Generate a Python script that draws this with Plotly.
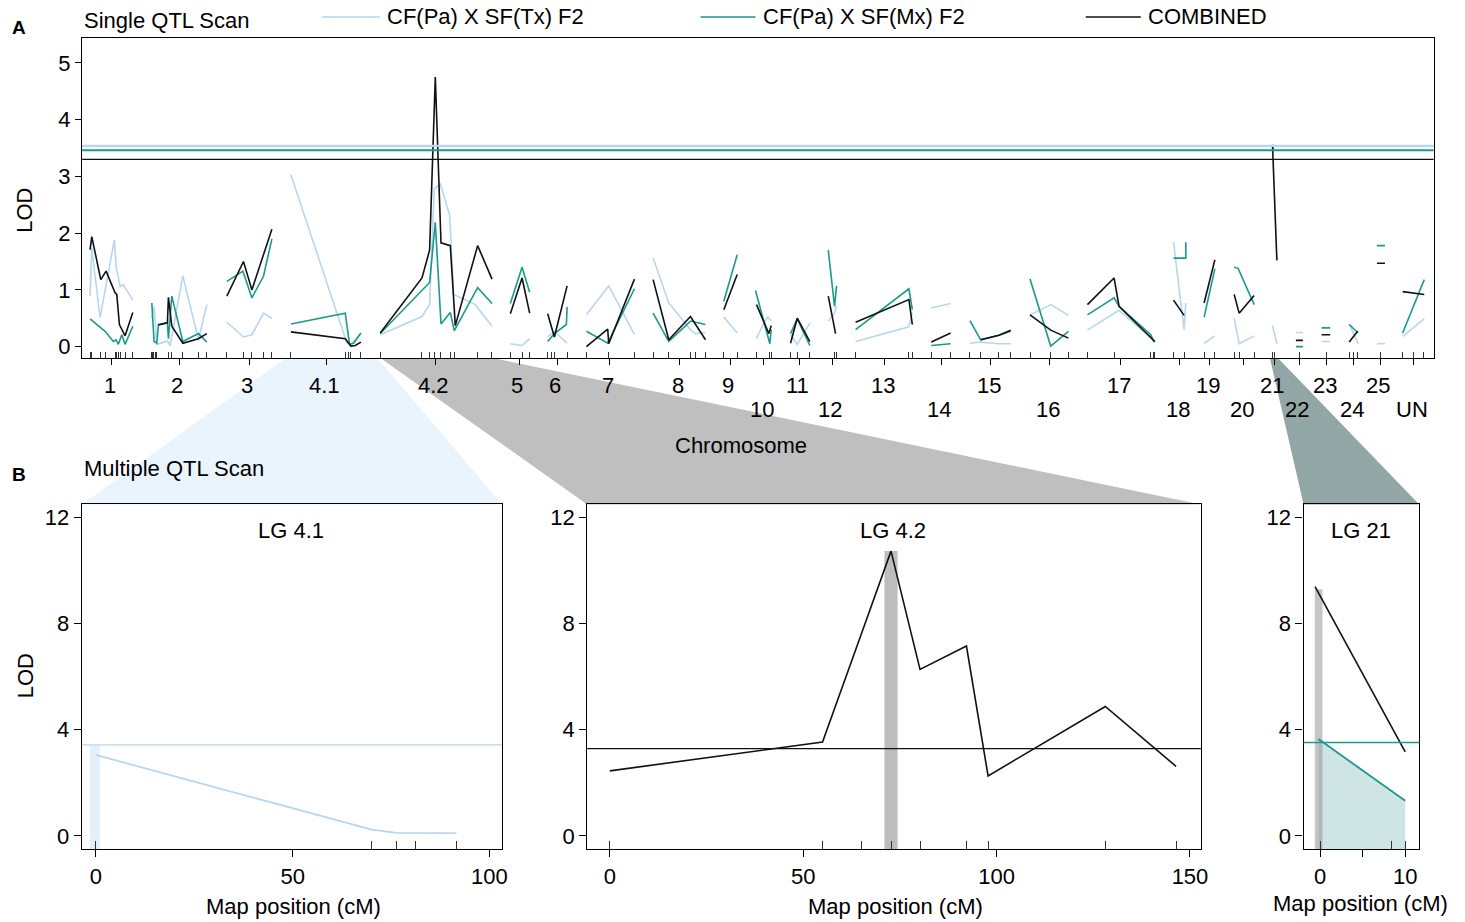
import plotly.graph_objects as go

W, H = 1465, 922          # reference pixel frame
FIG_W = 1473              # rendered width (capture is rescaled horizontally to 1465)
FONT = "Liberation Sans, Arial, sans-serif"
FS = 22
C_TX = "#b7d6ef"
C_MX = "#1a9a8c"
C_CB = "#111111"

# ---------------- Panel A : single QTL scan (cumulative genome position) ----------------
chrom_labels = ["1", "2", "3", "4.1", "4.2", "5", "6", "7", "8", "9", "10", "11", "12", "13",
                "14", "15", "16", "17", "18", "19", "20", "21", "22", "23", "24", "25", "UN"]
chrom_centers = [111.7, 179.3, 249, 326, 435, 519, 556.7, 609.3, 679.3, 730, 763.3, 799.3, 831.7,
                 884, 940.7, 990, 1049, 1120, 1179, 1208.7, 1242.7, 1273.3, 1298.3, 1326, 1352.7,
                 1379.3, 1412.7]
chrom_row = [0, 0, 0, 0, 0, 0, 0, 0, 0, 0, 1, 0, 1, 0, 1, 0, 1, 0, 1, 0, 1, 0, 1, 0, 1, 0, 1]

tx_pos = [90, 91.7, 100, 114.3, 116, 120, 123.3, 132.7, None,
          151.7, 154, 156.7, 167.3, 170, 182.7, 198.3, 206.7, None,
          226.7, 243.3, 251.7, 263.3, 271.7, None,
          290.7, 346.7, 350.7, 360.7, None,
          380, 421.7, 429.3, 434, 440, 449.3, 453.3, 475, 491.7, None,
          510, 521.7, 529.3, None,
          547.3, 554, 566.7, None,
          586, 608.3, 634, None,
          652.7, 668.3, 690, 695, 705, None,
          723.3, 736.7, None,
          756, 763.3, 767.3, 770.7, None,
          790, 796.7, 809.3, None,
          827.7, 834, 836, None,
          855, 908.3, 911.7, None,
          930.7, 950, None,
          969.3, 980, 998.3, 1010, None,
          1029.3, 1050, 1067.7, None,
          1086.7, 1118.3, 1154, None,
          1172.7, 1183.3, 1185, None,
          1203.3, 1214, None,
          1233.3, 1238.3, 1253.3, None,
          1271.7, 1276, None,
          1295, 1302, None,
          1320.7, 1329.3, None,
          1348.3, 1357.3, None,
          1376, 1384, None,
          1401.7, 1423.3]
tx_lod = [0.89, 1.74, 0.51, 1.88, 1.41, 1.06, 1.09, 0.82, None,
          0.5, 0.71, 0.04, 0.1, 0.02, 1.25, 0.12, 0.74, None,
          0.43, 0.17, 0.21, 0.59, 0.5, None,
          3.03, 0.06, 0.04, 0.23, None,
          0.21, 0.53, 0.74, 2.78, 2.87, 2.32, 0.92, 0.74, 0.36, None,
          0.05, 0.02, 0.14, None,
          0.17, 0.27, 0.06, None,
          0.56, 1.07, 0.21, None,
          1.56, 0.77, 0.3, 0.23, 0.25, None,
          0.52, 0.24, None,
          0.14, 0.42, 0.52, 0.45, None,
          0.21, 0.04, 0.42, None,
          0.45, 0.59, 0.71, None,
          0.09, 0.35, 0.6, None,
          0.68, 0.76, None,
          0.06, 0.08, 0.05, 0.05, None,
          0.56, 0.74, 0.55, None,
          0.29, 0.64, 0.09, None,
          1.85, 0.3, 0.77, None,
          0.06, 0.19, None,
          0.5, 0.05, 0.19, None,
          0.37, 0.05, None,
          0.25, 0.25, None,
          0.09, 0.09, None,
          0.4, 0.05, None,
          0.05, 0.05, None,
          0.18, 0.49]

mx_pos = [90, 96.7, 105, 113.3, 116, 118.3, 121.7, 125, 132.7, None,
          151.7, 154, 156.7, 158.3, 167.3, 168.3, 171.7, 182.7, 198.3, 206.7, None,
          226.7, 242.7, 251.7, 263.3, 271.7, None,
          290.7, 345, 349.3, 353.3, 360.7, None,
          380, 429.3, 435, 440.7, 450, 454, 477.3, 491.7, None,
          510, 521.7, 529.3, None,
          547.3, 554, 566, 566.7, None,
          586, 607.3, 634, None,
          652.7, 668.3, 690, 705, None,
          723.3, 736.7, None,
          755, 769.3, 770.7, None,
          790, 796.7, 809.3, None,
          827.7, 834, 836, None,
          855, 908.3, 911.7, None,
          930.7, 950, None,
          969.3, 980, 998.3, 1010, None,
          1029.3, 1050, 1067.7, None,
          1086.7, 1113.3, 1118.3, 1150, 1152.7, 1154, None,
          1172.7, 1185, 1185, None,
          1203.3, 1214, None,
          1233.3, 1237.3, 1253.3, None,
          1271.7, 1272.2, None,
          1295, 1302, None,
          1320.7, 1329.3, None,
          1348.3, 1357.3, None,
          1376, 1384, None,
          1401.7, 1423.3]
mx_lod = [0.49, 0.39, 0.27, 0.09, 0.12, 0.04, 0.21, 0.04, 0.36, None,
          0.77, 0.09, 0.06, 0.39, 0.42, 0.14, 0.89, 0.09, 0.23, 0.08, None,
          1.15, 1.33, 0.86, 1.24, 1.9, None,
          0.4, 0.59, 0.04, 0.06, 0.24, None,
          0.23, 1.13, 2.19, 0.4, 0.6, 0.28, 1.04, 0.76, None,
          0.76, 1.4, 0.96, None,
          0.09, 0.23, 0.39, 0.7, None,
          0.27, 0.06, 1.02, None,
          0.59, 0.09, 0.45, 0.39, None,
          0.8, 1.62, None,
          0.99, 0.05, 0.3, None,
          0.23, 0.49, 0.02, None,
          1.7, 0.71, 1.07, None,
          0.3, 1.02, 0.65, None,
          0.02, 0.05, None,
          0.46, 0.12, 0.2, 0.27, None,
          1.19, 0.01, 0.27, None,
          0.56, 0.86, 0.71, 0.21, 0.1, 0.08, None,
          1.56, 1.56, 1.84, None,
          0.52, 1.37, None,
          1.4, 1.38, 0.74, None,
          3.56, 3.45, None,
          0.0, 0.0, None,
          0.33, 0.33, None,
          0.39, 0.24, None,
          1.78, 1.78, None,
          0.24, 1.18]

cb_pos = [90, 91.7, 100.7, 106, 115, 116.7, 119.3, 125, 132.7, None,
          158.3, 167.3, 168.3, 171.7, 182.7, 198.3, 206.7, None,
          226.7, 243.3, 251.7, 271.7, None,
          290.7, 345, 350.7, 355, 360.7, None,
          380, 421.7, 429.3, 435, 440.7, 450, 455, 477.3, 491.7, None,
          510, 521.7, 529.3, None,
          547.3, 554, 566.7, None,
          586, 607.3, 608.3, 634, None,
          652.7, 668.3, 690, 705, None,
          723.3, 736.7, None,
          756, 768.3, 770.7, None,
          790, 796.7, 809.3, None,
          827.7, 835, None,
          855, 908.3, 911.7, None,
          930.7, 950, None,
          980, 998.3, 1010, None,
          1029.3, 1050, 1067.7, None,
          1086.7, 1113.3, 1118.3, 1154, None,
          1172.7, 1183.3, None,
          1203.3, 1214, None,
          1233.3, 1238.3, 1253.3, None,
          1271.7, 1276, None,
          1295, 1302, None,
          1320.7, 1329.3, None,
          1348.3, 1356.7, None,
          1376, 1384, None,
          1401.7, 1423.3]
cb_lod = [1.71, 1.94, 1.18, 1.33, 0.95, 0.92, 0.39, 0.19, 0.6, None,
          0.38, 0.42, 0.87, 0.36, 0.06, 0.14, 0.23, None,
          0.89, 1.5, 1.0, 2.07, None,
          0.26, 0.14, 0.01, 0.02, 0.08, None,
          0.24, 1.21, 1.7, 4.75, 1.83, 1.78, 0.37, 1.78, 1.19, None,
          0.58, 1.21, 0.59, None,
          0.58, 0.17, 1.07, None,
          0.0, 0.31, 0.05, 1.19, None,
          1.18, 0.12, 0.53, 0.12, None,
          0.65, 1.27, None,
          0.74, 0.23, 0.37, None,
          0.06, 0.5, 0.09, None,
          0.89, 0.23, None,
          0.43, 0.83, 0.39, None,
          0.08, 0.24, None,
          0.12, 0.2, 0.29, None,
          0.56, 0.29, 0.15, None,
          0.74, 1.21, 0.71, 0.09, None,
          0.82, 0.55, None,
          0.77, 1.53, None,
          0.92, 0.59, 0.9, None,
          3.53, 1.52, None,
          0.11, 0.11, None,
          0.21, 0.21, None,
          0.08, 0.27, None,
          1.47, 1.47, None,
          0.97, 0.92]

markers_A = [90, 91.7, 100, 105, 115, 116.7, 118.3, 120, 125, 132.7,
             151.7, 152.7, 153.7, 155, 156.7, 168.3, 171.7, 182.7, 198.3, 206.7,
             226.7, 243.3, 251.7, 263.3, 271.7,
             290.7, 345, 348.3, 350.7, 360.7,
             380, 421.7, 429.3, 434, 440.7, 450, 454, 477.3, 490.7,
             510, 521.7, 529.3, 547.3, 550.7, 554, 566.7, 586, 608.3, 634,
             652.7, 668.3, 690, 695, 705, 723.3, 736.7, 756, 769.3, 770.7,
             790, 796.7, 809.3, 834, 836, 855, 908.3, 911.7, 930.7, 950,
             969.3, 980, 998.3, 1010, 1029.3, 1050, 1067.7,
             1086.7, 1113.3, 1150, 1152.7, 1154, 1172.7, 1183.3, 1203.3, 1214,
             1233.3, 1238.3, 1253.3, 1271.7, 1274, 1298.3, 1326,
             1348.3, 1352.7, 1356.7, 1379.3, 1401.7, 1412.7, 1422.7]

thr_A = {"tx": 3.54, "mx": 3.46, "cb": 3.30}

# ---------------- Panel B : multiple QTL scan ----------------
lg41_pos = [0, 70.1, 76.4, 81.2, 91.6]
lg41_tx = [3.05, 0.23, 0.11, 0.1, 0.1]
lg41_ci = [-1.5, 1.0]
lg41_thr = 3.43

lg42_pos = [0, 55, 65, 72.7, 80.2, 92.2, 97.8, 128.1, 146.4]
lg42_cb = [2.45, 3.54, 7.6, 10.74, 6.28, 7.16, 2.26, 4.88, 2.62]
lg42_ci = [71.0, 74.4]
lg42_thr = 3.29

lg21_cb_pos = [-0.6, 10.0]
lg21_cb = [9.40, 3.17]
lg21_mx_pos = [-0.2, 10.0]
lg21_mx = [3.65, 1.32]
lg21_ci = [-0.63, 0.27]
lg21_thr = 3.52
lg21_markers = [0, 8.4, 10]


def px(x):
    return x / W


def py(y):
    return 1 - y / H


fig = go.Figure()

# Panel A lines
for xs, ys, col, name in [(tx_pos, tx_lod, C_TX, "CF(Pa) X SF(Tx) F2"),
                          (mx_pos, mx_lod, C_MX, "CF(Pa) X SF(Mx) F2"),
                          (cb_pos, cb_lod, C_CB, "COMBINED")]:
    fig.add_trace(go.Scatter(x=xs, y=ys, mode="lines", line=dict(color=col, width=1.6),
                             connectgaps=False, name=name, showlegend=False,
                             xaxis="x", yaxis="y"))
fig.add_trace(go.Scatter(x=markers_A, y=[None] * len(markers_A), mode="markers",
                         showlegend=False, hoverinfo="skip", xaxis="x5", yaxis="y"))

# Panel B : LG 4.1
fig.add_trace(go.Scatter(x=[lg41_ci[0], lg41_ci[1], lg41_ci[1], lg41_ci[0]],
                         y=[-0.5, -0.5, lg41_thr, lg41_thr], fill="toself", mode="none",
                         fillcolor="#e3f0fb", showlegend=False, xaxis="x2", yaxis="y2"))
fig.add_trace(go.Scatter(x=lg41_pos, y=lg41_tx, mode="lines", line=dict(color=C_TX, width=1.8),
                         showlegend=False, xaxis="x2", yaxis="y2"))
fig.add_trace(go.Scatter(x=lg41_pos, y=[None] * len(lg41_pos), mode="markers",
                         showlegend=False, hoverinfo="skip", xaxis="x6", yaxis="y2"))

# LG 4.2
fig.add_trace(go.Scatter(x=[lg42_ci[0], lg42_ci[1], lg42_ci[1], lg42_ci[0]],
                         y=[-0.5, -0.5, max(lg42_cb), max(lg42_cb)], fill="toself", mode="none",
                         fillcolor="#bdbdbd", showlegend=False, xaxis="x3", yaxis="y3"))
fig.add_trace(go.Scatter(x=lg42_pos, y=lg42_cb, mode="lines", line=dict(color=C_CB, width=1.6),
                         showlegend=False, xaxis="x3", yaxis="y3"))
fig.add_trace(go.Scatter(x=lg42_pos, y=[None] * len(lg42_pos), mode="markers",
                         showlegend=False, hoverinfo="skip", xaxis="x7", yaxis="y3"))

# LG 21
fig.add_trace(go.Scatter(x=[lg21_mx_pos[0], lg21_mx_pos[1], lg21_mx_pos[1], lg21_mx_pos[0]],
                         y=[lg21_mx[0], lg21_mx[1], -0.5, -0.5], fill="toself", mode="none",
                         fillcolor="#cfe4e4", showlegend=False, xaxis="x4", yaxis="y4"))
fig.add_trace(go.Scatter(x=[lg21_ci[0], lg21_ci[1], lg21_ci[1], lg21_ci[0]],
                         y=[-0.5, -0.5, lg21_cb[0] - 0.1, lg21_cb[0] - 0.1], fill="toself",
                         mode="none", fillcolor="rgba(150,150,150,0.55)", showlegend=False,
                         xaxis="x4", yaxis="y4"))
fig.add_trace(go.Scatter(x=lg21_cb_pos, y=lg21_cb, mode="lines", line=dict(color=C_CB, width=1.6),
                         showlegend=False, xaxis="x4", yaxis="y4"))
fig.add_trace(go.Scatter(x=lg21_mx_pos, y=lg21_mx, mode="lines", line=dict(color=C_MX, width=1.8),
                         showlegend=False, xaxis="x4", yaxis="y4"))
fig.add_trace(go.Scatter(x=lg21_markers, y=[None] * len(lg21_markers), mode="markers",
                         showlegend=False, hoverinfo="skip", xaxis="x8", yaxis="y4"))

tickfont = dict(family=FONT, size=FS, color="black")
box = dict(showline=True, linecolor="black", linewidth=1.3, mirror=True, showgrid=False,
           zeroline=False, ticks="outside", tickcolor="black", tickwidth=1, tickfont=tickfont)

A_x = [82, 1432.7]
A_y = [38.3, 358.3]
B_y = [505, 850]
B1_x = [81.7, 501.7]
B2_x = [586.8, 1200]
B3_x = [1302.7, 1418.3]

layout = dict(
    width=FIG_W, height=H, margin=dict(l=0, r=0, t=0, b=0),
    paper_bgcolor="white", plot_bgcolor="rgba(0,0,0,0)", showlegend=False,
    font=dict(family=FONT, size=FS, color="black"),
    xaxis=dict(box, domain=[px(A_x[0]), px(A_x[1])], range=A_x, anchor="y",
               tickvals=chrom_centers, ticktext=[""] * len(chrom_centers), ticklen=6),
    yaxis=dict(box, domain=[py(A_y[1]), py(A_y[0])], range=[-0.199, 5.435], anchor="x",
               tickvals=[0, 1, 2, 3, 4, 5], ticklen=6),
    xaxis5=dict(overlaying="x", anchor="y", range=A_x, tickvals=markers_A, ticks="inside",
                ticklen=6, tickcolor="#333333", tickwidth=1, showticklabels=False,
                showline=False, showgrid=False, zeroline=False),
    xaxis2=dict(box, domain=[px(B1_x[0]), px(B1_x[1])], range=[-3.6, 103.2], anchor="y2",
                tickvals=[0, 50, 100], ticklen=7),
    yaxis2=dict(box, domain=[py(B_y[1]), py(B_y[0])], range=[-0.5, 12.5], anchor="x2",
                tickvals=[0, 4, 8, 12], ticklen=7),
    xaxis6=dict(overlaying="x2", anchor="y2", range=[-3.6, 103.2], tickvals=lg41_pos,
                ticks="inside", ticklen=8, tickcolor="#333333", tickwidth=1,
                showticklabels=False, showline=False, showgrid=False, zeroline=False),
    xaxis3=dict(box, domain=[px(B2_x[0]), px(B2_x[1])], range=[-5.85, 152.8], anchor="y3",
                tickvals=[0, 50, 100, 150], ticklen=7),
    yaxis3=dict(box, domain=[py(B_y[1]), py(B_y[0])], range=[-0.5, 12.5], anchor="x3",
                tickvals=[0, 4, 8, 12], ticklen=7),
    xaxis7=dict(overlaying="x3", anchor="y3", range=[-5.85, 152.8], tickvals=lg42_pos,
                ticks="inside", ticklen=8, tickcolor="#333333", tickwidth=1,
                showticklabels=False, showline=False, showgrid=False, zeroline=False),
    xaxis4=dict(box, domain=[px(B3_x[0]), px(B3_x[1])], range=[-1.95, 11.65], anchor="y4",
                tickvals=[0, 5, 10], ticktext=["0", "", "10"], ticklen=7),
    yaxis4=dict(box, domain=[py(B_y[1]), py(B_y[0])], range=[-0.5, 12.5], anchor="x4",
                tickvals=[0, 4, 8, 12], ticklen=7),
    xaxis8=dict(overlaying="x4", anchor="y4", range=[-1.95, 11.65], tickvals=lg21_markers,
                ticks="inside", ticklen=8, tickcolor="#333333", tickwidth=1,
                showticklabels=False, showline=False, showgrid=False, zeroline=False),
)
fig.update_layout(**layout)


def poly(pts, color):
    d = "M " + " L ".join(f"{px(a):.5f},{py(b):.5f}" for a, b in pts) + " Z"
    return dict(type="path", path=d, xref="paper", yref="paper", fillcolor=color,
                line=dict(width=0), layer="below")


shapes = [
    poly([(286, 358.3), (377, 358.3), (501.7, 505), (81.7, 505)], "#eaf4fd"),
    poly([(380, 358.3), (492, 358.3), (1200, 505), (586.8, 505)], "#bfbfbf"),
    poly([(1269, 358.3), (1277, 358.3), (1418.3, 505), (1302.7, 505)], "#93a6a6"),
]
# threshold lines
for yref, xref, val, col, w in [("y", "x domain", thr_A["tx"], C_TX, 2.2),
                                ("y", "x domain", thr_A["mx"], C_MX, 2.0),
                                ("y", "x domain", thr_A["cb"], C_CB, 1.4),
                                ("y2", "x2 domain", lg41_thr, C_TX, 1.4),
                                ("y3", "x3 domain", lg42_thr, C_CB, 1.4),
                                ("y4", "x4 domain", lg21_thr, C_MX, 1.6)]:
    shapes.append(dict(type="line", xref=xref, x0=0, x1=1, yref=yref, y0=val, y1=val,
                       line=dict(color=col, width=w)))
# legend line samples
for x0, x1, col in [(322, 380, C_TX), (700, 755, C_MX), (1085, 1140, C_CB)]:
    shapes.append(dict(type="line", xref="paper", yref="paper", x0=px(x0), x1=px(x1),
                       y0=py(17), y1=py(17), line=dict(color=col, width=1.6)))
fig.update_layout(shapes=shapes)

ann = []


def text(x, y, s, xa="center", size=FS, bold=False, angle=0):
    ann.append(dict(x=px(x), y=py(y), xref="paper", yref="paper", text=f"<b>{s}</b>" if bold else s,
                    showarrow=False, xanchor=xa, yanchor="middle", textangle=angle,
                    font=dict(family=FONT, size=size, color="black")))


text(19, 28, "A", size=19, bold=True)
text(19, 475, "B", size=19, bold=True)
text(82, 21, "Single QTL Scan", xa="left")
text(385, 17, "CF(Pa) X SF(Tx) F2", xa="left")
text(760, 17, "CF(Pa) X SF(Mx) F2", xa="left")
text(1145, 17, "COMBINED", xa="left")
text(82, 469, "Multiple QTL Scan", xa="left")
text(25, 211, "LOD", angle=-90)
text(25, 677, "LOD", angle=-90)
text(740, 446, "Chromosome")
text(293, 907, "Map position (cM)")
text(895, 907, "Map position (cM)")
text(1360, 904, "Map position (cM)")
text(291, 531, "LG 4.1")
text(892, 531, "LG 4.2")
text(1360, 531, "LG 21")
for lab, c, r in zip(chrom_labels, chrom_centers, chrom_row):
    ann.append(dict(x=c - 2, y=py(386 if r == 0 else 410), xref="x", yref="paper", text=lab,
                    showarrow=False, xanchor="center", yanchor="middle",
                    font=dict(family=FONT, size=FS, color="black")))
fig.update_layout(annotations=ann)

fig.write_html("out.html", config={"displayModeBar": False},
               post_script="document.body.style.margin='0';document.body.style.overflow='hidden';")
